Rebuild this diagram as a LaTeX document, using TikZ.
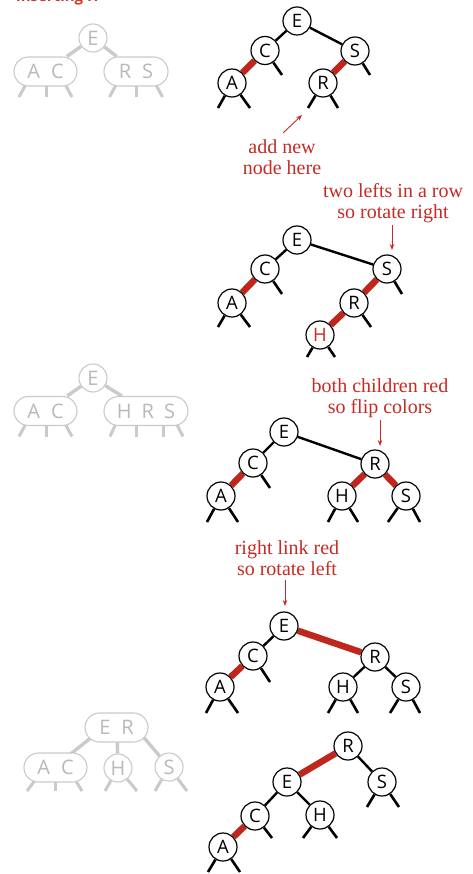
\documentclass[tikz,border=0pt]{standalone}
\usepackage{fontspec}
\setmainfont{Liberation Serif}
\newfontfamily\keyfont{Open Sans}
\newfontfamily\titlefont{Open Sans}
\usetikzlibrary{calc,backgrounds,arrows.meta}
\definecolor{linkred}{RGB}{191,38,28}
\definecolor{notered}{RGB}{196,44,36}
\definecolor{ghost}{RGB}{202,202,202}
\definecolor{ghosttext}{RGB}{185,185,185}
\definecolor{titlered}{RGB}{205,60,40}
\tikzset{
  key/.style={circle,draw=black,line width=1.2pt,fill=white,minimum size=28pt,inner sep=0pt,
    font=\keyfont\fontsize{18.5}{18.5}\selectfont},
  hkey/.style={key,text=notered},
  gkey/.style={circle,draw=ghost,line width=1.1pt,fill=white,minimum size=28pt,inner sep=0pt,
    text=ghosttext,font=\keyfont\fontsize{20}{20}\selectfont},
  gpair/.style={rectangle,rounded corners=14.5pt,draw=ghost,line width=1.1pt,fill=white,
    minimum height=29pt,minimum width=63pt,inner sep=0pt,text=ghosttext,
    font=\keyfont\fontsize{20}{20}\selectfont},
  blink/.style={line width=2.4pt,black},
  rlink/.style={line width=6.5pt,linkred},
  glink/.style={line width=3.4pt,ghost},
  stub/.style={line width=2.6pt,black},
  gstub/.style={line width=3pt,ghost},
  note/.style={text=notered,align=center,font=\fontsize{20}{21}\selectfont,inner sep=0pt},
  notearrow/.style={draw=notered,line width=0.9pt,-{Stealth[length=6pt,width=4.5pt]}},
}
\begin{document}
\begin{tikzpicture}[x=1pt,y=-1pt]
\useasboundingbox (0,0) rectangle (472,874);

% title (cut off at top, as in the reference)
\node[anchor=base west,inner sep=0pt,text=titlered,font=\titlefont\bfseries\fontsize{15}{15}\selectfont] (title) at (16,2) {inserting H};

% ---------- ghost 2-3 trees ----------
\node[gkey] (gE1) at (93,38) {E};
\node[gpair] (gAC1) at (45.5,71.5) {A\hspace{11pt}C};
\node[gpair,minimum width=64pt] (gRS1) at (136,71.5) {R\hspace{11pt}S};

\node[gkey] (gE2) at (93,378) {E};
\node[gpair] (gAC2) at (45.5,411) {A\hspace{11pt}C};
\node[gpair,minimum width=84pt] (gHRS2) at (146,411) {H\hspace{10pt}R\hspace{10pt}S};

\node[gpair] (gER3) at (116.5,727.5) {E\hspace{11pt}R};
\node[gpair] (gAC3) at (55.5,767.5) {A\hspace{11pt}C};
\node[gkey] (gH3) at (118,768) {H};
\node[gkey] (gS3) at (169,767) {S};

% ---------- tree 1 ----------
\node[key] (E1) at (297,21) {E};
\node[key] (C1) at (265,50.5) {C};
\node[key] (S1) at (355,51) {S};
\node[key] (A1) at (232,83) {A};
\node[key] (R1) at (323,83) {R};

% ---------- tree 2 ----------
\node[key] (E2) at (297,240) {E};
\node[key] (C2) at (265,269) {C};
\node[key] (S2) at (387,269) {S};
\node[key] (A2) at (232,303) {A};
\node[key] (R2) at (354,303) {R};
\node[hkey] (H2) at (320,335) {H};

% ---------- tree 3 ----------
\node[key] (E3) at (284,432) {E};
\node[key] (C3) at (253,463) {C};
\node[key] (R3) at (375,464) {R};
\node[key] (A3) at (221,496) {A};
\node[key] (H3) at (342,496) {H};
\node[key] (S3) at (406,496) {S};

% ---------- tree 4 ----------
\node[key] (E4) at (284,626) {E};
\node[key] (C4) at (253,656) {C};
\node[key] (R4) at (375,657) {R};
\node[key] (A4) at (220,687) {A};
\node[key] (H4) at (343,687) {H};
\node[key] (S4) at (406,687) {S};

% ---------- tree 5 ----------
\node[key] (R5) at (348,746) {R};
\node[key] (E5) at (287,782) {E};
\node[key] (S5) at (382,782) {S};
\node[key] (C5) at (255,816) {C};
\node[key] (H5) at (320,815) {H};
\node[key] (A5) at (223,847) {A};

% ---------- notes ----------
\node[note] (n1) at (282,157) {add new\\node here};
\node[note] (n2) at (393,203) {two lefts in a row\\so rotate right};
\node[note] (n3) at (380,398) {both children red\\so flip colors};
\node[note] (n4) at (287,558) {right link red\\so rotate left};

\coordinate (a1s) at (283,133); \coordinate (a1e) at (302,115);
\coordinate (a2s) at (392,225); \coordinate (a2e) at (392,250);
\coordinate (a3s) at (380,420); \coordinate (a3e) at (380,446);
\coordinate (a4s) at (285,580); \coordinate (a4e) at (285,606);
\draw[notearrow] (a1s) -- (a1e);
\draw[notearrow] (a2s) -- (a2e);
\draw[notearrow] (a3s) -- (a3e);
\draw[notearrow] (a4s) -- (a4e);

\begin{pgfonlayer}{background}
\fill[white] (0,0) rectangle (472,874);
% ghost links and stubs
\draw[glink] (gE1) -- (gAC1);
\draw[glink] (gE1) -- (gRS1);
\draw[gstub] (gAC1) ++(-17,8) -- ++(-9.5,17.5);
\draw[gstub] (gAC1) ++(0.5,8) -- ++(0,17.5);
\draw[gstub] (gAC1) ++(17,8) -- ++(9.5,17.5);
\draw[gstub] (gRS1) ++(-17,8) -- ++(-9.5,17.5);
\draw[gstub] (gRS1) ++(0,8) -- ++(0,17.5);
\draw[gstub] (gRS1) ++(17,8) -- ++(9.5,17.5);

\draw[glink] (gE2) -- (gAC2);
\draw[glink] (gE2) -- (gHRS2);
\draw[gstub] (gAC2) ++(-17,8) -- ++(-9.5,17.5);
\draw[gstub] (gAC2) ++(0.5,8) -- ++(0,17.5);
\draw[gstub] (gAC2) ++(17,8) -- ++(9.5,17.5);
\draw[gstub] (gHRS2) ++(-28,8) -- ++(-8,17.5);
\draw[gstub] (gHRS2) ++(-10,8) -- ++(0,17.5);
\draw[gstub] (gHRS2) ++(17,8) -- ++(0,17.5);
\draw[gstub] (gHRS2) ++(28,8) -- ++(9,17.5);

\draw[glink] (gER3) ++(-19.5,5.5) -- ($(gAC3)+(12.5,-11.5)$);
\draw[glink] (gER3) ++(0.5,5) -- (gH3);
\draw[glink] (gER3) ++(23.5,5.5) -- (gS3);
\draw[gstub] (gAC3) ++(-17,8) -- ++(-11.5,15.5);
\draw[gstub] (gAC3) ++(-0.5,8) -- ++(0,15.5);
\draw[gstub] (gAC3) ++(17,8) -- ++(9.5,15.5);
\draw[gstub] (gH3) -- ++(-13,23);
\draw[gstub] (gH3) -- ++(19,23);
\draw[gstub] (gS3) -- ++(-14,24);
\draw[gstub] (gS3) -- ++(18,24);

% tree 1
\draw[blink] (E1) -- (C1);
\draw[blink] (E1) -- (S1);
\draw[rlink] (C1) -- (A1);
\draw[rlink] (S1) -- (R1);
\draw[stub] (C1) -- ++(17,24.5);
\draw[stub] (S1) -- ++(15,24);
\draw[stub] (A1) -- ++(-14,25);
\draw[stub] (A1) -- ++(18,25);
\draw[stub] (R1) -- ++(-15,25);
\draw[stub] (R1) -- ++(15,25);

% tree 2
\draw[blink] (E2) -- (C2);
\draw[blink] (E2) -- (S2);
\draw[rlink] (C2) -- (A2);
\draw[rlink] (S2) -- (R2);
\draw[rlink] (R2) -- (H2);
\draw[stub] (C2) -- ++(17,25);
\draw[stub] (S2) -- ++(15,25);
\draw[stub] (A2) -- ++(-14,24);
\draw[stub] (A2) -- ++(18,24);
\draw[stub] (R2) -- ++(17,24);
\draw[stub] (H2) -- ++(-13,22);
\draw[stub] (H2) -- ++(15,22);

% tree 3
\draw[blink] (E3) -- (C3);
\draw[blink] (E3) -- (R3);
\draw[rlink] (C3) -- (A3);
\draw[rlink] (R3) -- (H3);
\draw[rlink] (R3) -- (S3);
\draw[stub] (C3) -- ++(17,25);
\draw[stub] (A3) -- ++(-14,26);
\draw[stub] (A3) -- ++(17,26);
\draw[stub] (H3) -- ++(-14,26);
\draw[stub] (H3) -- ++(16,26);
\draw[stub] (S3) -- ++(-18,26);
\draw[stub] (S3) -- ++(14,26);

% tree 4
\draw[blink] (E4) -- (C4);
\draw[rlink] (E4) -- (R4);
\draw[rlink] (C4) -- (A4);
\draw[blink] (R4) -- (H4);
\draw[blink] (R4) -- (S4);
\draw[stub] (C4) -- ++(17,26);
\draw[stub] (A4) -- ++(-14,26);
\draw[stub] (A4) -- ++(18,26);
\draw[stub] (H4) -- ++(-15,26);
\draw[stub] (H4) -- ++(15,26);
\draw[stub] (S4) -- ++(-16,26);
\draw[stub] (S4) -- ++(14,26);

% tree 5
\draw[rlink] (R5) -- (E5);
\draw[blink] (R5) -- (S5);
\draw[blink] (E5) -- (C5);
\draw[blink] (E5) -- (H5);
\draw[rlink] (C5) -- (A5);
\draw[stub] (S5) -- ++(-15,25);
\draw[stub] (S5) -- ++(17,25);
\draw[stub] (C5) -- ++(17,22);
\draw[stub] (H5) -- ++(-17,23);
\draw[stub] (H5) -- ++(17,23);
\draw[stub] (A5) -- ++(-15,25);
\draw[stub] (A5) -- ++(17,25);
\end{pgfonlayer}
\end{tikzpicture}
\end{document}
